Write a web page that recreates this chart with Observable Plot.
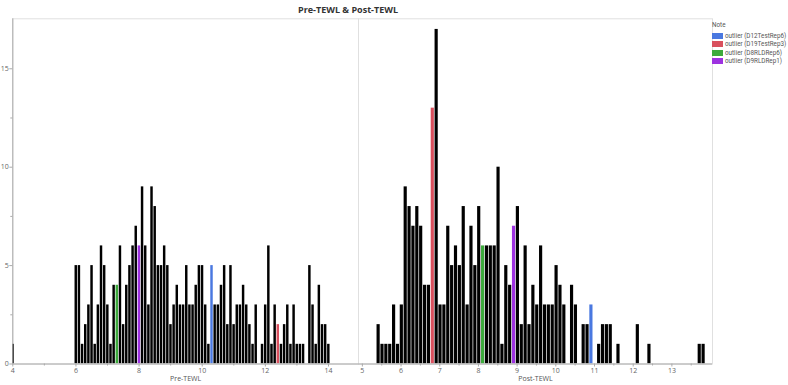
<!DOCTYPE html>
<html><head><meta charset="utf-8">
<script src="https://cdn.jsdelivr.net/npm/d3@7"></script>
<script src="https://cdn.jsdelivr.net/npm/@observablehq/plot@0.6"></script>
<style>
body{margin:0;background:#fff;font-family:"Open Sans",sans-serif;}
#wrap{position:relative;width:788px;height:385px;overflow:hidden;background:#fff;}
#title{position:absolute;left:0;top:4px;width:696px;text-align:center;font-weight:bold;font-size:9px;color:#333;line-height:11px;z-index:5;}
#left{position:absolute;left:0;top:0;}
#right{position:absolute;left:358px;top:0;}
#legend{position:absolute;left:712px;top:21px;font-family:Roboto,sans-serif;font-size:6.3px;color:#555;line-height:8.5px;z-index:5;}
.row{display:flex;align-items:center;white-space:nowrap;}
.sw{display:inline-block;width:11px;height:6px;margin-right:2px;}
</style></head>
<body><div id="wrap">
<div id="left"></div><div id="right"></div>
<div id="title">Pre-TEWL &amp; Post-TEWL</div>
<div id="legend"></div>
</div>
<script>
// ---- data ----
const notes = ["outlier (D12TestRep6)", "outlier (D19TestRep3)", "outlier (D8RLDRep6)", "outlier (D9RLDRep1)"];
const noteColors = ["#4a78e0", "#d9505e", "#3caa3c", "#9d32e0"];
const binWidth = 0.1;

// Pre-TEWL histogram counts, bins start at preStart
const preStart = 3.96;
const preCounts = [1, 0,0,0,0,0,0,0,0,0,0,0,0,0,0,0,0,0,0,0,
  5,5,1,2,3,5,1,3,6,5,
  3,1,4,4,6,2,4,5,6,7,
  6,9,6,3,9,8,5,5,6,5,
  2,3,4,3,3,5,3,3,4,5,
  5,3,1,5,3,3,4,5,2,5,
  2,3,3,4,3,2,1,3,0,1,
  3,6,1,3,2,1,2,3,1,3,
  1,1,1,0,5,3,1,4,2,2,
  1];
const preOutliers = [10.31, 12.41, 7.31, 8.01]; // value of each noted row

// Post-TEWL histogram counts, bins start at postStart
const postStart = 5.37;
const postCounts = [2,1,1,1,3,1,3,9,8,7,
  8,7,4,4,13,17,3,3,7,5,
  6,5,8,3,7,5,8,6,6,6,
  6,10,1,5,4,7,8,2,6,2,
  4,3,6,3,3,3,5,4,3,0,
  4,3,0,2,2,3,0,1,2,2,
  2,0,1,0,0,0,0,2,0,0,
  1,0,0,0,0,0,0,0,0,0,
  0,0,0,1,1];
const postOutliers = [10.92, 6.82, 8.12, 8.92];

const preTicks = [4, 6, 8, 10, 12, 14], preMinor = [5, 7, 9, 11, 13];
const postTicks = [5, 6, 7, 8, 9, 10, 11, 12, 13];
const postMinor = [5.5, 6.5, 7.5, 8.5, 9.5, 10.5, 11.5, 12.5, 13.5];
const yTicks = [0, 5, 10, 15], yMinor = [2.5, 7.5, 12.5];

// ---- build tables ----
function table(start, counts, outliers) {
  const rows = counts.map((c, i) => ({x1: start + i * binWidth, x2: start + (i + 1) * binWidth, count: c, note: "other"}));
  outliers.forEach((v, j) => { const i = Math.floor((v - start) / binWidth + 1e-9); if (rows[i]) rows[i].note = notes[j]; });
  return rows.filter(r => r.count > 0);
}
const preData = table(preStart, preCounts, preOutliers);
const postData = table(postStart, postCounts, postOutliers);

const H = 385, MT = 18.3, MB = 21.5;
const font = {fontFamily: "'Open Sans', sans-serif", fontSize: "7px", color: "#555", overflow: "visible"};

function panel({data, width, marginLeft, xDomain, major, minor, label, showY}) {
  const marks = [
    Plot.frame({stroke: "#e0e0e0"}),
    Plot.rectY(data, {x1: "x1", x2: "x2", y: "count", fill: "note", insetLeft: 0.35, insetRight: 0.35, clip: true}),
    Plot.ruleY([0], {stroke: "#a8a8a8"}),
    Plot.axisX({ticks: major, tickSize: 3, tickPadding: 1, stroke: "#aaa", fill: "#666", label: null}),
    Plot.axisX({ticks: minor, tickSize: 2, tickFormat: () => "", stroke: "#aaa", label: null}),
    Plot.text([label], {frameAnchor: "bottom", dy: 17, fill: "#555", fontSize: 7})
  ];
  if (showY) marks.push(
    Plot.ruleX([xDomain[0]], {stroke: "#a8a8a8"}),
    Plot.axisY({ticks: yTicks, tickSize: 3, tickPadding: 1, stroke: "#aaa", fill: "#666", label: null}),
    Plot.axisY({ticks: yMinor, tickSize: 2, tickFormat: () => "", stroke: "#aaa", label: null})
  );
  return Plot.plot({
    width, height: H, marginTop: MT, marginBottom: MB, marginLeft, marginRight: 0,
    x: {domain: xDomain, axis: null},
    y: {domain: [0, 17.54], axis: null},
    color: {domain: [...notes, "other"], range: [...noteColors, "#000"]},
    style: font,
    marks
  });
}

document.getElementById("left").append(panel({data: preData, width: 358, marginLeft: 12.3, xDomain: [4, 14.95], major: preTicks, minor: preMinor, label: "Pre-TEWL", showY: true}));
document.getElementById("right").append(panel({data: postData, width: 354, marginLeft: 0, xDomain: [4.9, 14.05], major: postTicks, minor: postMinor, label: "Post-TEWL", showY: false}));

// legend
const lg = document.getElementById("legend");
const head = document.createElement("div"); head.textContent = "Note"; head.style.marginBottom = "2px"; lg.append(head);
notes.forEach((n, i) => {
  const r = document.createElement("div"); r.className = "row";
  const s = document.createElement("span"); s.className = "sw"; s.style.background = noteColors[i];
  r.append(s, document.createTextNode(n)); lg.append(r);
});
</script>
</body></html>
